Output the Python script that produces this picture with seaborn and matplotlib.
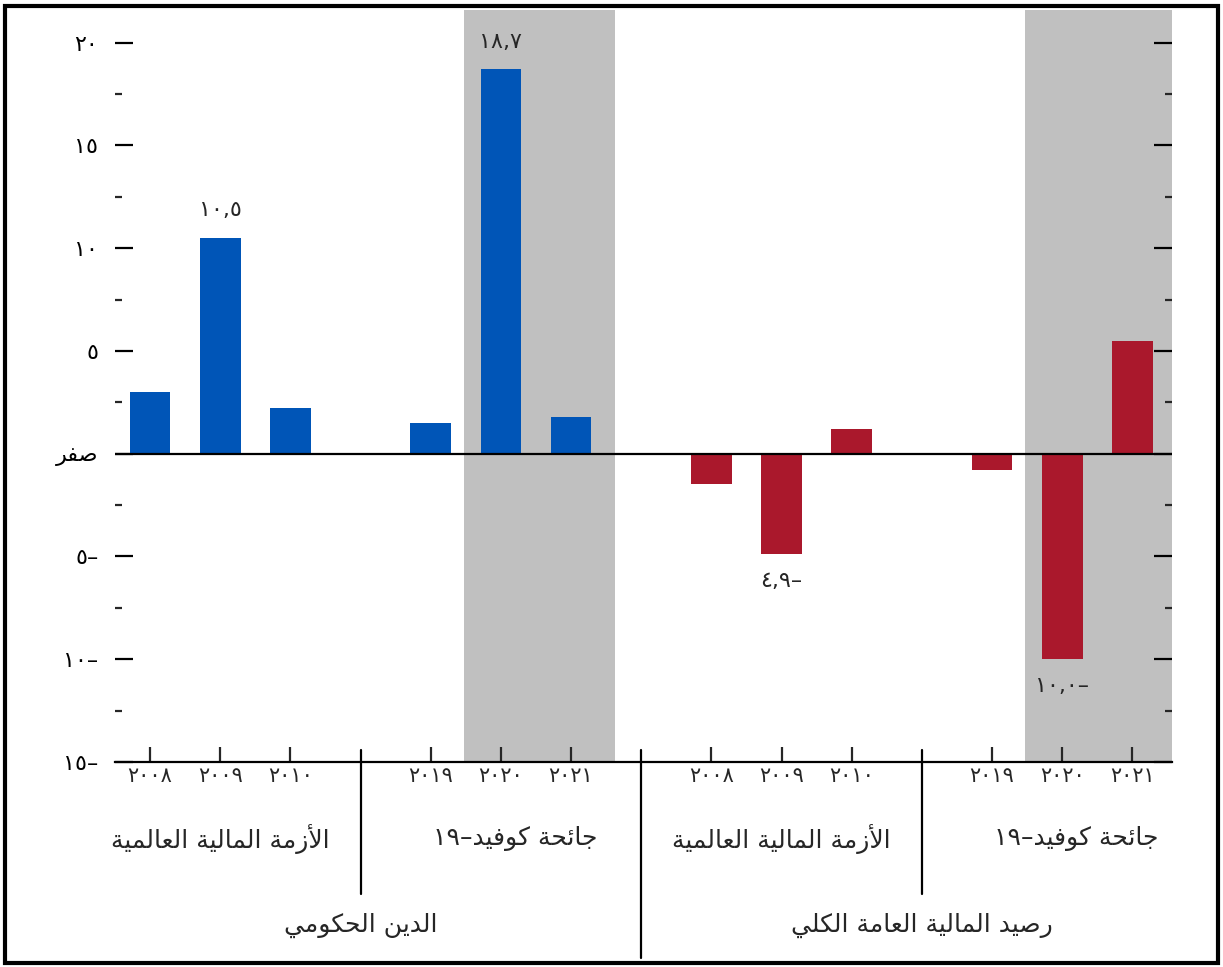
import re
import numpy as np
import pandas as pd
import matplotlib
matplotlib.use("Agg")
import matplotlib.pyplot as plt
from matplotlib.patches import Rectangle
import seaborn as sns

# data
years = ['٢٠٠٨', '٢٠٠٩', '٢٠١٠', '٢٠١٩', '٢٠٢٠', '٢٠٢١']
debt = [3.0, 10.5, 2.2, 1.5, 18.7, 1.8]
balance = [-1.5, -4.9, 1.2, -0.8, -10.0, 5.5]
periods = ['الأزمة المالية العالمية', 'جائحة كوفيد–١٩']
series = ['الدين الحكومي', 'رصيد المالية العامة الكلي']
labelled_years = ['٢٠٠٩', '٢٠٢٠']
ytick_values = [-15, -10, -5, 0, 5, 10, 15, 20]
ytick_labels = ['١٥–', '١٠–', '٥–', 'صفر', '٥', '١٠', '١٥', '٢٠']

# --- tiny Arabic shaper (matplotlib draws glyphs left to right, unjoined) ---
FORMS = {
    'ا': (0xFE8D, 0xFE8E), 'أ': (0xFE83, 0xFE84), 'د': (0xFEA9, 0xFEAA),
    'ر': (0xFEAD, 0xFEAE), 'ز': (0xFEAF, 0xFEB0), 'و': (0xFEED, 0xFEEE),
    'ة': (0xFE93, 0xFE94),
    'ل': (0xFEDD, 0xFEDE, 0xFEDF, 0xFEE0), 'م': (0xFEE1, 0xFEE2, 0xFEE3, 0xFEE4),
    'ي': (0xFEF1, 0xFEF2, 0xFEF3, 0xFEF4), 'ع': (0xFEC9, 0xFECA, 0xFECB, 0xFECC),
    'ج': (0xFE9D, 0xFE9E, 0xFE9F, 0xFEA0), 'ئ': (0xFE89, 0xFE8A, 0xFE8B, 0xFE8C),
    'ح': (0xFEA1, 0xFEA2, 0xFEA3, 0xFEA4), 'ك': (0xFED9, 0xFEDA, 0xFEDB, 0xFEDC),
    'ف': (0xFED1, 0xFED2, 0xFED3, 0xFED4), 'ن': (0xFEE5, 0xFEE6, 0xFEE7, 0xFEE8),
    'ص': (0xFEB9, 0xFEBA, 0xFEBB, 0xFEBC),
}
LAM_ALEF = {'ا': (0xFEFB, 0xFEFC), 'أ': (0xFEF7, 0xFEF8)}


def shape(text):
    if not any(c in FORMS for c in text):
        return text  # plain numbers are written in display order already
    units, i = [], 0
    while i < len(text):
        if text[i] == 'ل' and i + 1 < len(text) and text[i + 1] in LAM_ALEF:
            units.append(('LA', text[i + 1]))
            i += 2
        else:
            units.append(text[i])
            i += 1
    out = []
    for k, u in enumerate(units):
        prev = units[k - 1] if k > 0 else None
        nxt = units[k + 1] if k + 1 < len(units) else None
        joins_prev = isinstance(prev, str) and prev in FORMS and len(FORMS[prev]) == 4
        if isinstance(u, tuple):
            f = LAM_ALEF[u[1]]
            out.append(chr(f[1] if joins_prev else f[0]))
            continue
        if u not in FORMS:
            out.append(u)
            continue
        f = FORMS[u]
        joins_next = len(f) == 4 and nxt is not None and (isinstance(nxt, tuple) or nxt in FORMS)
        if joins_prev and joins_next:
            g = f[3]
        elif joins_prev:
            g = f[1]
        elif joins_next:
            g = f[2]
        else:
            g = f[0]
        out.append(chr(g))
    vis = ''.join(out)[::-1]
    return re.sub('[٠-٩]+', lambda m: m.group(0)[::-1], vis)


def ar_num(v):
    s = f"{abs(v):.1f}".replace('.', ',')
    s = s.translate(str.maketrans('0123456789', '٠١٢٣٤٥٦٧٨٩'))
    return s + '–' if v < 0 else s


# positions: 3 bars per period, one empty slot between periods
rows = []
for si, (name, vals) in enumerate(zip(series, [debt, balance])):
    for yi, (yr, v) in enumerate(zip(years, vals)):
        pos = si * 8 + (yi // 3) * 4 + yi % 3
        rows.append({'pos': pos, 'value': v, 'series': name, 'year': yr,
                     'period': periods[yi // 3]})
df = pd.DataFrame(rows)

sns.set_style('white')
plt.rcParams['font.family'] = ['DejaVu Sans']

fig = plt.figure(figsize=(12.23, 9.67), dpi=100)
ax = fig.add_axes([0.094, 0.212, 0.864, 0.778])

# grey shading behind covid years
for si in range(2):
    cov = df[(df.series == series[si]) & (df.period == periods[1])].pos.values
    ax.axvspan(cov[1] - 0.53, cov[2] + 0.62, color='#c0c0c0', zorder=0, lw=0)

sns.barplot(data=df, x='pos', y='value', hue='series', native_scale=True,
            palette={series[0]: '#0055b7', series[1]: '#aa182c'},
            width=0.58, dodge=False, legend=False, saturation=1, linewidth=0,
            ax=ax, zorder=2)

ax.axhline(0, color='black', lw=1.6, zorder=3)
ax.set_xlim(-0.5, 14.56)
ax.set_ylim(-15, 21.6)

for s in ['left', 'right', 'top']:
    ax.spines[s].set_visible(False)
ax.spines['bottom'].set_linewidth(1.6)
ax.spines['bottom'].set_color('black')

ax.set_yticks(ytick_values)
ax.set_yticklabels([shape(t) for t in ytick_labels], fontsize=16)
ax.set_yticks(np.arange(-12.5, 21, 5), minor=True)
ax.tick_params(axis='y', which='major', direction='in', length=13, width=1.6,
               left=True, right=True, pad=12, colors='black')
ax.tick_params(axis='y', which='minor', direction='in', length=5, width=1.6,
               left=True, right=True)

ax.set_xticks(df.pos.values)
ax.set_xticklabels(df.year.values, fontsize=15)
ax.tick_params(axis='x', direction='in', length=11, width=1.6, bottom=True, pad=3)
ax.set_xlabel('')
ax.set_ylabel('')

# value labels for the peak years
for _, r in df[df.year.isin(labelled_years)].iterrows():
    off = 1.35 if r.value > 0 else -1.3
    ax.text(r.pos, r.value + off, ar_num(r.value), ha='center', va='center',
            fontsize=16)

# separators and group labels below the axis
xt = ax.get_xaxis_transform()
for si in range(2):
    sub = df[df.series == series[si]]
    for pi, per in enumerate(periods):
        p = sub[sub.period == per].pos
        ax.text(p.mean() + 0.2 * pi, -0.102, shape(per), transform=xt,
                ha='center', va='center', fontsize=18)
    ax.text(sub.pos.mean(), -0.217, shape(series[si]), transform=xt,
            ha='center', va='center', fontsize=18)
    mid = sub[sub.period == periods[0]].pos.max() + 1
    ax.plot([mid, mid], [0.016, -0.175], transform=xt, color='black',
            lw=1.6, clip_on=False)
split = df[df.series == series[0]].pos.max() + 1
ax.plot([split, split], [0.016, -0.26], transform=xt, color='black',
        lw=1.6, clip_on=False)

fig.add_artist(Rectangle((0.004, 0.004), 0.992, 0.99, transform=fig.transFigure,
                         fill=False, ec='black', lw=3))

fig.savefig('out.png', dpi=100)
